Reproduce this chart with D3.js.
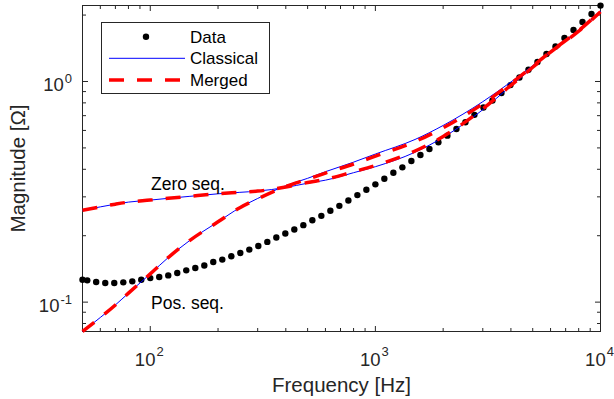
<!DOCTYPE html>
<html>
<head>
<meta charset="utf-8">
<script src="https://cdn.jsdelivr.net/npm/d3@7"></script>
<style>
  body { margin: 0; background: #fff; }
  svg { display: block; font-family: "Liberation Sans", Arial, sans-serif; }
</style>
</head>
<body>
<div id="chart"></div>
<script>
// Measured impedance magnitude (black dots)
const freqData = [50, 52.5, 57.5, 63.1, 69.2, 75.9, 83.2, 91.2, 100, 109.6, 120.2, 131.8, 144.5, 158.5,
    173.8, 190.5, 208.9, 229.1, 251.2, 275.4, 302, 331.1, 363.1, 398.1, 436.5, 478.6, 524.8, 575.4,
    631, 691.8, 758.6, 831.8, 912, 1000, 1096, 1202, 1318, 1445, 1585, 1738, 1905, 2089, 2291, 2512,
    2754, 3020, 3311, 3631, 3981, 4365, 4786, 5248, 5754, 6310, 6918, 7586, 8318, 9120, 10000];
const magData = [0.1264, 0.1255, 0.1233, 0.1220, 0.1220, 0.1229, 0.1242, 0.1264, 0.1285, 0.1299,
    0.1322, 0.1355, 0.1393, 0.1427, 0.1466, 0.1520, 0.1559, 0.1614, 0.1670, 0.1730,
    0.1797, 0.1875, 0.1963, 0.2047, 0.2134, 0.2233, 0.2350, 0.2460, 0.2594, 0.2731,
    0.2890, 0.3056, 0.3229, 0.3418, 0.3623, 0.3857, 0.4082, 0.4360, 0.4645,
    0.4943, 0.5302, 0.5682, 0.6095, 0.6538, 0.7061, 0.7620, 0.8196, 0.8857, 0.9630,
    1.043, 1.130, 1.225, 1.332, 1.442, 1.574, 1.713, 1.862, 2.023, 2.208];

// Model curves on a common frequency grid
const freqFit = [50, 60, 70, 80, 100, 120, 150, 200, 250, 300, 400, 500, 600, 800, 1000,
    1500, 2000, 3000, 4000, 5000, 6000, 8000, 10000];
const zeroClassical = [0.2611, 0.2702, 0.278, 0.284, 0.290, 0.2954, 0.3017, 0.3097, 0.3145, 0.3186,
    0.331, 0.346, 0.357, 0.386, 0.411, 0.478, 0.558, 0.745, 0.955, 1.156, 1.355, 1.69, 2.07];
const zeroMerged = [0.2611, 0.2702, 0.278, 0.284, 0.290, 0.2954, 0.3017, 0.3097, 0.3145, 0.3186,
    0.3322, 0.3483, 0.360, 0.390, 0.416, 0.484, 0.5636, 0.751, 0.961, 1.16, 1.358, 1.69, 2.07];
const posClassical = [0.0736, 0.0852, 0.0971, 0.1098, 0.1343, 0.1590, 0.1905, 0.2312, 0.268, 0.295,
    0.337, 0.364, 0.390, 0.431, 0.469, 0.546, 0.632, 0.810, 0.995, 1.180, 1.37, 1.70, 2.08];
const posMerged = [0.0736, 0.0852, 0.0971, 0.1098, 0.1343, 0.1590, 0.1905, 0.2312, 0.268, 0.294,
    0.3346, 0.3608, 0.3846, 0.4226, 0.459, 0.534, 0.617, 0.792, 0.980, 1.172, 1.365, 1.70, 2.08];

// Ticks and labels
const xMajor = [100, 1000, 10000];
const xMinor = [60, 70, 80, 90, 200, 300, 400, 500, 600, 700, 800, 900,
    2000, 3000, 4000, 5000, 6000, 7000, 8000, 9000];
const yMajor = [0.1, 1];
const yMinor = [0.08, 0.09, 0.2, 0.3, 0.4, 0.5, 0.6, 0.7, 0.8, 0.9, 2];
const xTickLabels = [['10', '2'], ['10', '3'], ['10', '4']];
const yTickLabels = [['10', '-1'], ['10', '0']];
const legendLabels = ['Data', 'Classical', 'Merged'];
const curveLabels = ['Zero seq.', 'Pos. seq.'];

const width = 614, height = 399;
const axisColor = '#262626';

const svg = d3.select('#chart')
    .append('svg')
    .attr('width', width)
    .attr('height', height);

const x = d3.scaleLog().domain([50, 10000]).range([82.5, 600.5]);
const y = d3.scaleLog().domain([0.0736, 2.21]).range([331.5, 5.5]);

// Frame box
svg.append('rect')
    .attr('x', 82.5).attr('y', 5.5)
    .attr('width', 518).attr('height', 326)
    .attr('fill', 'none')
    .attr('stroke', axisColor)
    .attr('stroke-width', 1);

// Inward ticks on all four sides
function ticks(axis, transform, values, size) {
    svg.append('g')
        .attr('transform', transform)
        .call(axis.tickValues(values).tickSize(-size).tickFormat('').offset(0))
        .call(g => {
            g.select('.domain').remove();
            g.selectAll('line').attr('stroke', axisColor);
        });
}
ticks(d3.axisBottom(x), 'translate(0,331.5)', xMajor, 5.5);
ticks(d3.axisBottom(x), 'translate(0,331.5)', xMinor, 3.5);
ticks(d3.axisTop(x), 'translate(0,5.5)', xMajor, 5.5);
ticks(d3.axisTop(x), 'translate(0,5.5)', xMinor, 3.5);
ticks(d3.axisLeft(y), 'translate(82.5,0)', yMajor, 5.5);
ticks(d3.axisLeft(y), 'translate(82.5,0)', yMinor, 3.5);
ticks(d3.axisRight(y), 'translate(600.5,0)', yMajor, 5.5);
ticks(d3.axisRight(y), 'translate(600.5,0)', yMinor, 3.5);

// Tick labels with superscript exponents
svg.append('g').selectAll('text')
    .data(xMajor)
    .join('text')
    .attr('x', d => x(d) - 1)
    .attr('y', 366)
    .attr('text-anchor', 'middle')
    .attr('font-size', 18.5)
    .attr('fill', axisColor)
    .each(function(d, i) {
        const t = d3.select(this);
        t.append('tspan').text(xTickLabels[i][0]);
        t.append('tspan').attr('dx', 1).attr('dy', -10).attr('font-size', 13).text(xTickLabels[i][1]);
    });

svg.append('g').selectAll('text')
    .data(yMajor)
    .join('text')
    .attr('x', 72)
    .attr('y', d => y(d) + 10)
    .attr('text-anchor', 'end')
    .attr('font-size', 18.5)
    .attr('fill', axisColor)
    .each(function(d, i) {
        const t = d3.select(this);
        t.append('tspan').text(yTickLabels[i][0]);
        t.append('tspan').attr('dx', 1).attr('dy', -8.5).attr('font-size', 13).text(yTickLabels[i][1]);
    });

// Axis titles
svg.append('text')
    .attr('x', 341.5).attr('y', 391.5)
    .attr('text-anchor', 'middle')
    .attr('font-size', 20.5)
    .attr('fill', axisColor)
    .text('Frequency [Hz]');

svg.append('text')
    .attr('transform', 'translate(25,168.5) rotate(-90)')
    .attr('text-anchor', 'middle')
    .attr('font-size', 20.5)
    .attr('fill', axisColor)
    .text('Magnitude [Ω]');

// Data points
svg.append('g').selectAll('circle')
    .data(freqData)
    .join('circle')
    .attr('cx', d => x(d))
    .attr('cy', (d, i) => y(magData[i]))
    .attr('r', 3.2)
    .attr('fill', '#000');

const line = d3.line()
    .x(d => x(d[0]))
    .y(d => y(d[1]))
    .curve(d3.curveMonotoneX);

const pairs = vals => freqFit.map((f, i) => [f, vals[i]]);

// Classical model (thin blue)
[zeroClassical, posClassical].forEach(vals => {
    svg.append('path')
        .attr('d', line(pairs(vals)))
        .attr('fill', 'none')
        .attr('stroke', '#0000ff')
        .attr('stroke-width', 1);
});

// Merged model (thick red dashes)
[zeroMerged, posMerged].forEach(vals => {
    svg.append('path')
        .attr('d', line(pairs(vals)))
        .attr('fill', 'none')
        .attr('stroke', '#ff0000')
        .attr('stroke-width', 3.5)
        .attr('stroke-dasharray', '15,13');
});

// Curve annotations
svg.append('text')
    .attr('x', 151).attr('y', 190)
    .attr('font-size', 17.5)
    .attr('fill', '#000')
    .text(curveLabels[0]);
svg.append('text')
    .attr('x', 151).attr('y', 308.5)
    .attr('font-size', 17.5)
    .attr('fill', '#000')
    .text(curveLabels[1]);

// Legend
const legend = svg.append('g');
legend.append('rect')
    .attr('x', 101.5).attr('y', 22.5)
    .attr('width', 168).attr('height', 71)
    .attr('fill', '#fff')
    .attr('stroke', axisColor)
    .attr('stroke-width', 1);

const rowY = [36.7, 58.3, 80];
legend.append('circle')
    .attr('cx', 146).attr('cy', rowY[0])
    .attr('r', 3.2).attr('fill', '#000');
legend.append('line')
    .attr('x1', 109).attr('x2', 185)
    .attr('y1', rowY[1]).attr('y2', rowY[1])
    .attr('stroke', '#0000ff').attr('stroke-width', 1);
legend.append('line')
    .attr('x1', 109).attr('x2', 185)
    .attr('y1', rowY[2]).attr('y2', rowY[2])
    .attr('stroke', '#ff0000').attr('stroke-width', 3.5)
    .attr('stroke-dasharray', '15,13');

legend.selectAll('text.lbl')
    .data(legendLabels)
    .join('text')
    .attr('class', 'lbl')
    .attr('x', 190)
    .attr('y', (d, i) => rowY[i] + 6)
    .attr('font-size', 17)
    .attr('fill', '#000')
    .text(d => d);
</script>
</body>
</html>
